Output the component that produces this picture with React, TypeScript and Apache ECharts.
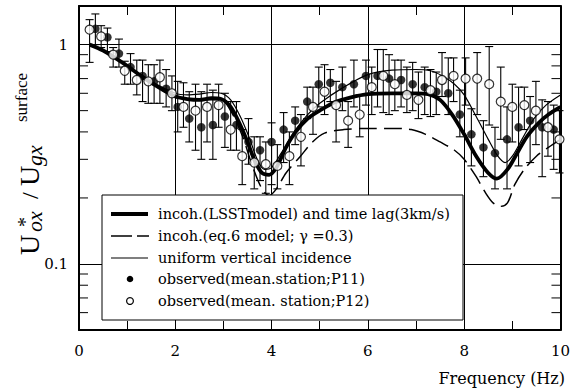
import React, { useEffect, useRef } from 'react';
import * as echarts from 'echarts';

// ---------- data ----------
const xTickValues = [0, 2, 4, 6, 8, 10];
const yLabelValues = [0.1, 1];
const yMinorTicks = [0.06, 0.07, 0.08, 0.09, 0.2, 0.3, 0.4, 0.5, 0.6, 0.7, 0.8, 0.9];

// thick line: incoh.(LSSTmodel) and time lag
const lsstFreq = [0.22, 0.5, 0.75, 1.0, 1.25, 1.5, 1.75, 2.0, 2.25, 2.5, 2.75, 2.95, 3.15, 3.35, 3.5, 3.65, 3.8, 3.95, 4.1, 4.3, 4.5, 4.75, 5.0, 5.3, 5.65, 6.0, 6.5, 7.0, 7.25, 7.5, 7.75, 8.0, 8.25, 8.5, 8.68, 8.9, 9.1, 9.3, 9.55, 9.75, 10];
const lsstVal = [1.0, 0.94, 0.87, 0.8, 0.73, 0.67, 0.62, 0.58, 0.565, 0.56, 0.57, 0.565, 0.52, 0.43, 0.36, 0.295, 0.26, 0.255, 0.275, 0.34, 0.4, 0.46, 0.5, 0.545, 0.575, 0.595, 0.6, 0.6, 0.595, 0.56, 0.48, 0.39, 0.31, 0.26, 0.245, 0.27, 0.32, 0.38, 0.44, 0.48, 0.52];

// dashed: incoh.(eq.6 model)
const eq6Freq = [0.22, 0.5, 1.0, 1.5, 2.0, 2.5, 2.95, 3.15, 3.4, 3.6, 3.8, 3.95, 4.1, 4.3, 4.6, 4.85, 5.1, 5.5, 6.0, 6.5, 6.9, 7.2, 7.5, 7.8, 8.0, 8.25, 8.45, 8.6, 8.75, 8.9, 9.05, 9.25, 9.5, 9.75, 10];
const eq6Val = [1.0, 0.94, 0.8, 0.67, 0.58, 0.56, 0.56, 0.5, 0.38, 0.28, 0.22, 0.205, 0.22, 0.26, 0.31, 0.36, 0.395, 0.41, 0.415, 0.415, 0.41, 0.39, 0.36, 0.33, 0.3, 0.25, 0.21, 0.19, 0.183, 0.19, 0.23, 0.27, 0.31, 0.34, 0.37];

// thin: uniform vertical incidence
const uniFreq = [0.22, 0.5, 1.0, 1.5, 2.0, 2.25, 2.5, 2.75, 2.95, 3.15, 3.35, 3.55, 3.7, 3.85, 4.0, 4.2, 4.5, 4.75, 5.0, 5.5, 6.0, 6.5, 7.0, 7.3, 7.55, 7.8, 8.0, 8.25, 8.5, 8.7, 8.85, 9.0, 9.2, 9.45, 9.7, 10];
const uniVal = [1.0, 0.94, 0.8, 0.68, 0.6, 0.59, 0.595, 0.605, 0.6, 0.56, 0.47, 0.37, 0.3, 0.27, 0.275, 0.32, 0.41, 0.48, 0.54, 0.64, 0.73, 0.765, 0.77, 0.76, 0.72, 0.66, 0.59, 0.47, 0.37, 0.31, 0.29, 0.31, 0.37, 0.46, 0.53, 0.59];

// observed P11 (filled)
const p11Freq = [0.34, 0.59, 0.83, 1.07, 1.32, 1.56, 1.81, 2.05, 2.29, 2.54, 2.78, 3.03, 3.27, 3.52, 3.76, 4.0, 4.25, 4.49, 4.74, 4.98, 5.22, 5.47, 5.71, 5.96, 6.2, 6.44, 6.69, 6.93, 7.18, 7.42, 7.67, 7.91, 8.15, 8.4, 8.64, 8.89, 9.13, 9.37, 9.62, 9.86];
const p11Mean = [1.18, 1.08, 0.91, 0.79, 0.72, 0.68, 0.63, 0.52, 0.46, 0.42, 0.43, 0.47, 0.43, 0.36, 0.33, 0.36, 0.41, 0.45, 0.55, 0.66, 0.67, 0.64, 0.66, 0.72, 0.72, 0.7, 0.69, 0.66, 0.64, 0.61, 0.6, 0.48, 0.39, 0.34, 0.32, 0.37, 0.42, 0.45, 0.42, 0.41];
const p11Low = [1.0, 0.93, 0.79, 0.66, 0.55, 0.54, 0.52, 0.4, 0.36, 0.3, 0.3, 0.34, 0.33, 0.285, 0.24, 0.23, 0.29, 0.35, 0.46, 0.52, 0.55, 0.5, 0.52, 0.53, 0.52, 0.48, 0.52, 0.5, 0.48, 0.48, 0.48, 0.38, 0.28, 0.25, 0.22, 0.22, 0.28, 0.29, 0.25, 0.27];
const p11High = [1.38, 1.19, 1.06, 0.91, 0.85, 0.81, 0.77, 0.68, 0.61, 0.61, 0.62, 0.6, 0.55, 0.46, 0.38, 0.44, 0.49, 0.52, 0.64, 0.79, 0.77, 0.79, 0.85, 0.85, 0.95, 0.9, 0.85, 0.83, 0.79, 0.75, 0.87, 0.62, 0.51, 0.45, 0.42, 0.52, 0.64, 0.58, 0.56, 0.53];

// observed P12 (open)
const p12Freq = [0.22, 0.46, 0.71, 0.95, 1.2, 1.44, 1.68, 1.93, 2.17, 2.42, 2.66, 2.9, 3.15, 3.39, 3.64, 3.88, 4.12, 4.37, 4.61, 4.86, 5.1, 5.34, 5.59, 5.83, 6.08, 6.32, 6.56, 6.81, 7.05, 7.3, 7.54, 7.78, 8.03, 8.27, 8.52, 8.76, 9.0, 9.25, 9.49, 9.74, 9.98];
const p12Mean = [1.17, 1.09, 0.9, 0.76, 0.69, 0.68, 0.71, 0.6, 0.52, 0.5, 0.52, 0.53, 0.41, 0.31, 0.29, 0.285, 0.28, 0.31, 0.38, 0.52, 0.61, 0.53, 0.45, 0.48, 0.64, 0.72, 0.66, 0.59, 0.56, 0.62, 0.69, 0.72, 0.7, 0.7, 0.66, 0.55, 0.52, 0.53, 0.5, 0.42, 0.37];
const p12Low = [0.83, 0.97, 0.79, 0.66, 0.59, 0.54, 0.54, 0.5, 0.42, 0.33, 0.36, 0.42, 0.33, 0.23, 0.22, 0.21, 0.22, 0.23, 0.28, 0.39, 0.48, 0.36, 0.34, 0.38, 0.48, 0.49, 0.5, 0.49, 0.46, 0.47, 0.58, 0.55, 0.53, 0.48, 0.43, 0.37, 0.36, 0.41, 0.35, 0.31, 0.26];
const p12High = [1.3, 1.22, 0.97, 0.84, 0.85, 0.81, 0.85, 0.72, 0.67, 0.66, 0.66, 0.66, 0.55, 0.41, 0.38, 0.36, 0.35, 0.4, 0.48, 0.64, 0.81, 0.68, 0.55, 0.59, 0.79, 0.95, 0.85, 0.79, 0.75, 0.77, 0.92, 0.87, 0.87, 0.92, 0.98, 0.79, 0.66, 0.64, 0.68, 0.55, 0.5];

const legendLabels = [
  'incoh.(LSSTmodel) and time lag(3km/s)',
  'incoh.(eq.6 model; \u03b3 =0.3)',
  'uniform vertical incidence',
  'observed(mean.station;P11)',
  'observed(mean. station;P12)',
];
const xTitle = 'Frequency (Hz)';

// ---------- styling ----------
const SERIF = '"DejaVu Serif", "Liberation Serif", serif';
const TSERIF = '"Liberation Serif", "DejaVu Serif", serif';
const BLACK = '#000';

const zip = (a: number[], b: number[]) => a.map((v, i) => [v, b[i]]);

export default function App() {
  const ref = useRef<HTMLDivElement>(null);
  useEffect(() => {
    if (!ref.current) return;
    const chart = echarts.init(ref.current, undefined, { renderer: 'svg' });

    const errStyle = { stroke: BLACK, lineWidth: 1.1 };
    const errRender = (params: any, api: any) => {
      const f = api.value(0);
      const p1 = api.coord([f, api.value(1)]);
      const p2 = api.coord([f, api.value(2)]);
      const c = 4;
      return {
        type: 'group',
        children: [
          { type: 'line', shape: { x1: p1[0], y1: p1[1], x2: p2[0], y2: p2[1] }, style: errStyle },
          { type: 'line', shape: { x1: p1[0] - c, y1: p1[1], x2: p1[0] + c, y2: p1[1] }, style: errStyle },
          { type: 'line', shape: { x1: p2[0] - c, y1: p2[1], x2: p2[0] + c, y2: p2[1] }, style: errStyle },
        ],
      };
    };

    const minorRender = (params: any, api: any) => {
      const y = api.coord([0, api.value(1)])[1];
      const cs = params.coordSys;
      const L = 9;
      const st = { stroke: BLACK, lineWidth: 1 };
      return {
        type: 'group',
        children: [
          { type: 'line', shape: { x1: cs.x, y1: y, x2: cs.x + L, y2: y }, style: st },
          { type: 'line', shape: { x1: cs.x + cs.width - L, y1: y, x2: cs.x + cs.width, y2: y }, style: st },
        ],
      };
    };

    const fmtY = (v: number) => {
      for (const t of yLabelValues) if (Math.abs(v - t) / t < 1e-6) return String(t);
      return '';
    };
    const fmtX = (v: number) => (xTickValues.indexOf(Math.round(v * 1000) / 1000) >= 0 ? String(v) : '');

    const rowY = [214, 236, 258, 279, 301];
    const legendTexts = legendLabels.map((t, i) => ({
      type: 'text',
      z: 101,
      style: { x: 158, y: rowY[i], text: t, fill: BLACK, font: `14.5px ${SERIF}`, textVerticalAlign: 'middle', textAlign: 'left' },
    }));

    const rot = Math.PI / 2;
    const titleText = (text: string, x: number, y: number, size: number, italic = false) => ({
      type: 'text',
      x,
      y,
      rotation: rot,
      style: {
        text,
        fill: BLACK,
        font: `${italic ? 'italic ' : ''}${size}px ${TSERIF}`,
        textAlign: 'left',
        textVerticalAlign: 'middle',
      },
    });

    const option: any = {
      animation: false,
      grid: { left: 79, top: 6, width: 486, height: 324, containLabel: false },
      xAxis: [
        {
          type: 'value', min: 0, max: 10, interval: 2, position: 'bottom',
          axisLine: { show: true, onZero: false, lineStyle: { color: BLACK, width: 2 } },
          axisTick: { show: true, inside: true, length: 9, lineStyle: { color: BLACK, width: 1 } },
          minorTick: { show: true, splitNumber: 2, length: 9, lineStyle: { color: BLACK, width: 1 } },
          splitLine: { show: true, lineStyle: { color: BLACK, width: 1 } },
          axisLabel: { color: BLACK, fontSize: 15, fontFamily: SERIF, margin: 13, formatter: fmtX },
        },
        {
          type: 'value', min: 0, max: 10, interval: 2, position: 'top',
          axisLine: { show: true, onZero: false, lineStyle: { color: BLACK, width: 2 } },
          axisTick: { show: true, inside: true, length: 9, lineStyle: { color: BLACK, width: 1 } },
          minorTick: { show: true, splitNumber: 2, length: 9, lineStyle: { color: BLACK, width: 1 } },
          splitLine: { show: false },
          axisLabel: { show: false },
        },
      ],
      yAxis: [
        {
          type: 'log', logBase: 10, min: 0.05, max: 1.5, position: 'left',
          axisLine: { show: true, onZero: false, lineStyle: { color: BLACK, width: 2 } },
          axisTick: { show: false },
          splitLine: { show: true, lineStyle: { color: BLACK, width: 1 } },
          axisLabel: { color: BLACK, fontSize: 15, fontFamily: SERIF, margin: 11, formatter: fmtY },
        },
        {
          type: 'log', logBase: 10, min: 0.05, max: 1.5, position: 'right',
          axisLine: { show: true, onZero: false, lineStyle: { color: BLACK, width: 2 } },
          axisTick: { show: false },
          splitLine: { show: false },
          axisLabel: { show: false },
        },
      ],
      series: [
        {
          type: 'custom', name: 'yminor', renderItem: minorRender, silent: true, clip: false,
          data: yMinorTicks.map((v) => [0, v]), encode: { x: 0, y: 1 }, z: 1,
        },
        {
          type: 'line', name: 'eq6', data: zip(eq6Freq, eq6Val), smooth: 0.3, showSymbol: false, symbol: 'none',
          lineStyle: { color: BLACK, width: 1.5, type: [18, 7] }, z: 2,
        },
        {
          type: 'line', name: 'uniform', data: zip(uniFreq, uniVal), smooth: 0.3, showSymbol: false, symbol: 'none',
          lineStyle: { color: BLACK, width: 1.2 }, z: 2,
        },
        {
          type: 'line', name: 'lsst', data: zip(lsstFreq, lsstVal), smooth: 0.3, showSymbol: false, symbol: 'none',
          lineStyle: { color: BLACK, width: 3.8 }, z: 2,
        },
        {
          type: 'custom', name: 'errP11', renderItem: errRender, silent: true,
          data: p11Freq.map((f, i) => [f, p11Low[i], p11High[i]]), encode: { x: 0, y: [1, 2] }, z: 3,
        },
        {
          type: 'custom', name: 'errP12', renderItem: errRender, silent: true,
          data: p12Freq.map((f, i) => [f, p12Low[i], p12High[i]]), encode: { x: 0, y: [1, 2] }, z: 3,
        },
        {
          type: 'scatter', name: 'P11', data: zip(p11Freq, p11Mean), symbol: 'circle', symbolSize: 8.5,
          itemStyle: { color: BLACK }, z: 4,
        },
        {
          type: 'scatter', name: 'P12', data: zip(p12Freq, p12Mean), symbol: 'circle', symbolSize: 9,
          itemStyle: { color: '#fff', borderColor: BLACK, borderWidth: 1.2 }, z: 4,
        },
      ],
      graphic: [
        {
          type: 'rect', z: 100,
          shape: { x: 102, y: 195, width: 361, height: 125 },
          style: { fill: '#fff', stroke: BLACK, lineWidth: 1 },
        },
        { type: 'line', z: 101, shape: { x1: 111, y1: rowY[0], x2: 148, y2: rowY[0] }, style: { stroke: BLACK, lineWidth: 4 } },
        { type: 'line', z: 101, shape: { x1: 111, y1: rowY[1], x2: 149, y2: rowY[1] }, style: { stroke: BLACK, lineWidth: 1.5, lineDash: [21, 5] } },
        { type: 'line', z: 101, shape: { x1: 111, y1: rowY[2], x2: 148, y2: rowY[2] }, style: { stroke: BLACK, lineWidth: 1.2 } },
        { type: 'circle', z: 101, shape: { cx: 130, cy: rowY[3], r: 3.3 }, style: { fill: BLACK } },
        { type: 'circle', z: 101, shape: { cx: 130, cy: rowY[4], r: 3.4 }, style: { fill: '#fff', stroke: BLACK, lineWidth: 1.2 } },
        ...legendTexts,
        {
          type: 'text',
          style: { x: 565, y: 378, text: xTitle, fill: BLACK, font: `16px ${SERIF}`, textAlign: 'right', textVerticalAlign: 'middle' },
        },
        titleText('U', 29, 255, 28),
        titleText('ox', 34, 232, 22, true),
        titleText('*', 25, 227, 20),
        titleText('/', 30, 199, 24),
        titleText('U', 29, 186, 28),
        titleText('gx', 34, 166, 22, true),
        titleText('surface', 21, 122, 17),
      ],
    };
    chart.setOption(option);
    return () => chart.dispose();
  }, []);
  return <div ref={ref} style={{ position: 'fixed', left: 0, top: 0, width: 573, height: 388, background: '#fff' }} />;
}
